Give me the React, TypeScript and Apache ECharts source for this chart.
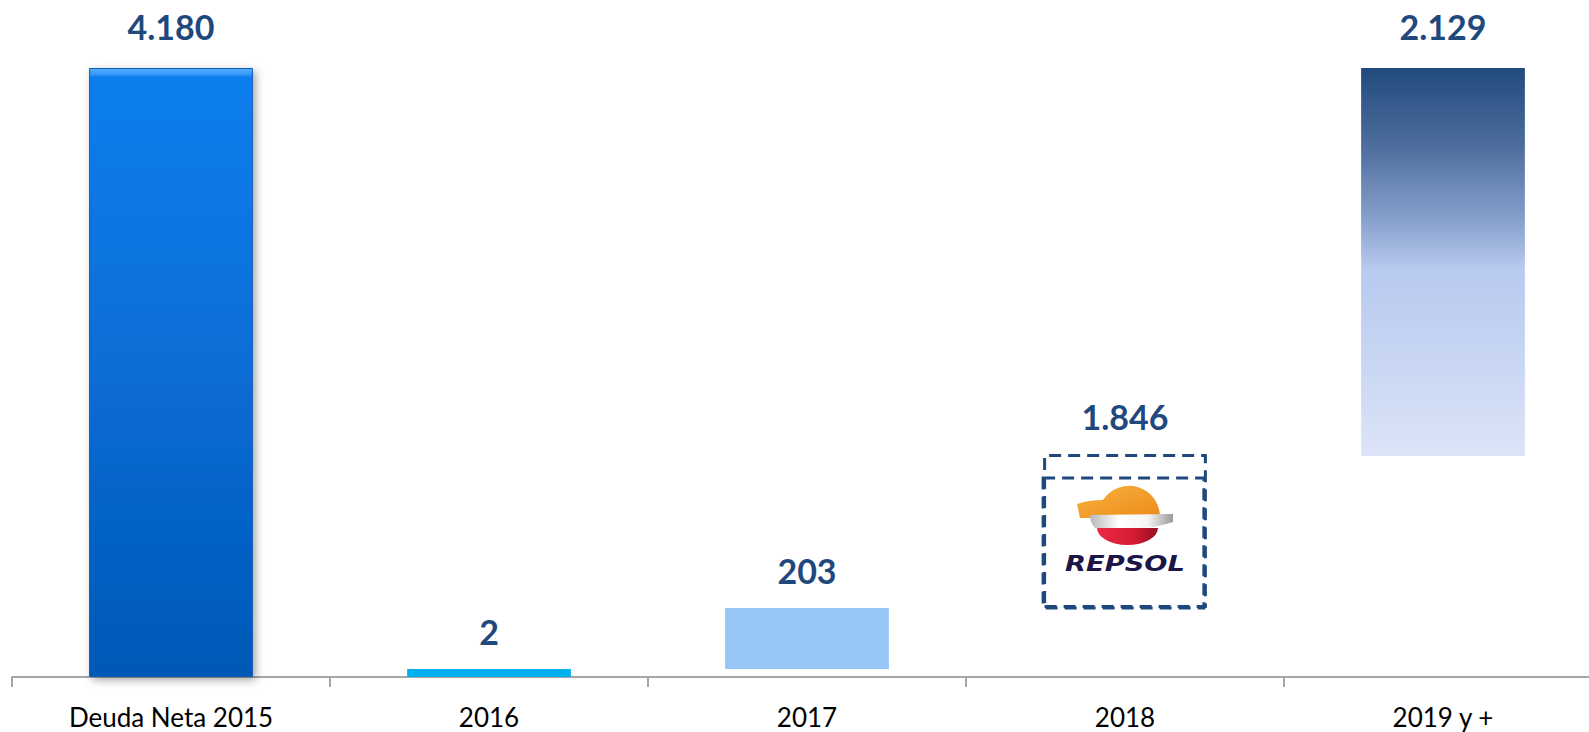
import React, { useEffect, useRef } from "react";
import * as echarts from "echarts";

// Category axis labels
const categories = ["Deuda Neta 2015", "2016", "2017", "2018", "2019 y +"];
// Values printed above each bar (millions)
const labelValues = [4180, 2, 203, 1846, 2129];
// Bar extents as drawn in the picture (axis units, top bar = 4.180)
const barBottoms = [0, 0, 55, 474, 1517];
const barHeights = [4180, 55, 419, 1057, 2663];
// Inner dashed frame holding the Repsol logo (2018): [category index, bottom, top]
const logoFrame = [[3, 474, 1366]];

const fmt = (n: number) => String(n).replace(/\B(?=(\d{3})+(?!\d))/g, ".");

const NAVY = "#1f497d";

export default function App() {
  const ref = useRef<HTMLDivElement>(null);
  useEffect(() => {
    if (!ref.current) return;
    const chart = echarts.init(ref.current, undefined, { renderer: "svg" });

    const itemStyles = [
      {
        color: {
          type: "linear", x: 0, y: 0, x2: 0, y2: 1,
          colorStops: [
            { offset: 0, color: "#52aefc" },
            { offset: 0.009, color: "#3b9cf8" },
            { offset: 0.014, color: "#0a7eee" },
            { offset: 0.5, color: "#076dd6" },
            { offset: 1, color: "#0558b6" },
          ],
        },
        borderColor: "#0a5bb5",
        borderWidth: 1,
        shadowBlur: 8,
        shadowColor: "rgba(0,0,0,0.35)",
        shadowOffsetX: 3,
        shadowOffsetY: 3,
      },
      { color: "#00b0f0" },
      { color: "#95c6f5" },
      {
        color: "rgba(0,0,0,0)",
        borderColor: NAVY,
        borderWidth: 3,
        borderType: [12, 7],
      },
      {
        color: {
          type: "linear", x: 0, y: 0, x2: 0, y2: 1,
          colorStops: [
            { offset: 0, color: "#214a7d" },
            { offset: 0.2, color: "#4d6d9c" },
            { offset: 0.4, color: "#8aa3cf" },
            { offset: 0.52, color: "#b9caf0" },
            { offset: 0.7, color: "#c4d3f2" },
            { offset: 1, color: "#dce4f7" },
          ],
        },
      },
    ];

    const option: any = {
      animation: false,
      grid: { left: 12, right: 3, top: 68, bottom: 55, containLabel: false },
      xAxis: {
        type: "category",
        data: categories,
        axisLine: { show: true, lineStyle: { color: "#a6a6a6", width: 2 } },
        axisTick: { show: true, length: 10, lineStyle: { color: "#a6a6a6", width: 2 } },
        axisLabel: {
          color: "#000",
          fontFamily: "Lato",
          fontSize: 26,
          margin: 27,
        },
      },
      yAxis: {
        type: "value",
        min: 0,
        max: 4180,
        show: false,
        splitLine: { show: false },
      },
      series: [
        {
          name: "base",
          type: "bar",
          stack: "w",
          barWidth: "51.5%",
          silent: true,
          itemStyle: { color: "rgba(0,0,0,0)" },
          data: barBottoms,
        },
        {
          name: "valor",
          type: "bar",
          stack: "w",
          barWidth: "51.5%",
          data: barHeights.map((v, i) => ({
            value: v,
            itemStyle: itemStyles[i],
            label: { distance: i === 0 || i === 4 ? 25 : 20 },
          })),
          label: {
            show: true,
            position: "top",
            distance: 20,
            color: NAVY,
            fontFamily: "Lato",
            fontWeight: "bold",
            fontSize: 34,
            formatter: (p: any) => fmt(labelValues[p.dataIndex]),
          },
        },
        {
          name: "logo",
          type: "custom",
          silent: true,
          z: 5,
          data: logoFrame,
          renderItem: (params: any, api: any) => {
            const idx = api.value(0);
            const b = api.coord([idx, api.value(1)]);
            const t = api.coord([idx, api.value(2)]);
            const bw = api.size([1, 0])[0] * 0.515;
            const left = b[0] - bw / 2;
            const cx = b[0];
            const y0 = t[1];
            return {
              type: "group",
              children: [
                {
                  type: "rect",
                  shape: { x: left, y: t[1], width: bw - 3, height: b[1] - t[1] },
                  style: { fill: "none", stroke: NAVY, lineWidth: 3, lineDash: [12, 7] },
                },
                {
                  type: "group",
                  x: cx,
                  y: y0,
                  children: [
                    {
                      type: "path",
                      shape: {
                        pathData: "M -48 26 Q -36 22 -22 22 A 31 31 0 0 1 35 40 L -45 40 Z",
                      },
                      style: {
                        fill: {
                          type: "linear", x: 0, y: 0, x2: 1, y2: 1,
                          colorStops: [
                            { offset: 0, color: "#f6b23c" },
                            { offset: 1, color: "#ee8a1c" },
                          ],
                        },
                      },
                    },
                    {
                      type: "path",
                      shape: {
                        pathData: "M -35 37 L 48 36 L 48 44 Q 32 49 20 50 L -30 50 Q -35 45 -35 37 Z",
                      },
                      style: {
                        fill: {
                          type: "linear", x: 0, y: 0, x2: 1, y2: 0,
                          colorStops: [
                            { offset: 0, color: "#b8b8b8" },
                            { offset: 0.35, color: "#ffffff" },
                            { offset: 0.7, color: "#f4f4f4" },
                            { offset: 1, color: "#9a9a9a" },
                          ],
                        },
                      },
                    },
                    {
                      type: "path",
                      shape: {
                        pathData: "M -28 50 L 33 50 A 30.5 17 0 0 1 -28 50 Z",
                      },
                      style: {
                        fill: {
                          type: "linear", x: 0, y: 0, x2: 1, y2: 0,
                          colorStops: [
                            { offset: 0, color: "#ea2a42" },
                            { offset: 0.6, color: "#d41c32" },
                            { offset: 1, color: "#941020" },
                          ],
                        },
                      },
                    },
                    {
                      type: "text",
                      x: 0,
                      y: 86,
                      scaleX: 1.3,
                      style: {
                        text: "REPSOL",
                        fill: "#1b1548",
                        font: "italic bold 21px 'DejaVu Sans'",
                        align: "center",
                        verticalAlign: "middle",
                      },
                    },
                  ],
                },
              ],
            };
          },
        },
      ],
    };

    chart.setOption(option);
    return () => chart.dispose();
  }, []);

  return (
    <div
      ref={ref}
      style={{ position: "fixed", left: 0, top: 0, width: 1605, height: 732, background: "#fff" }}
    />
  );
}
